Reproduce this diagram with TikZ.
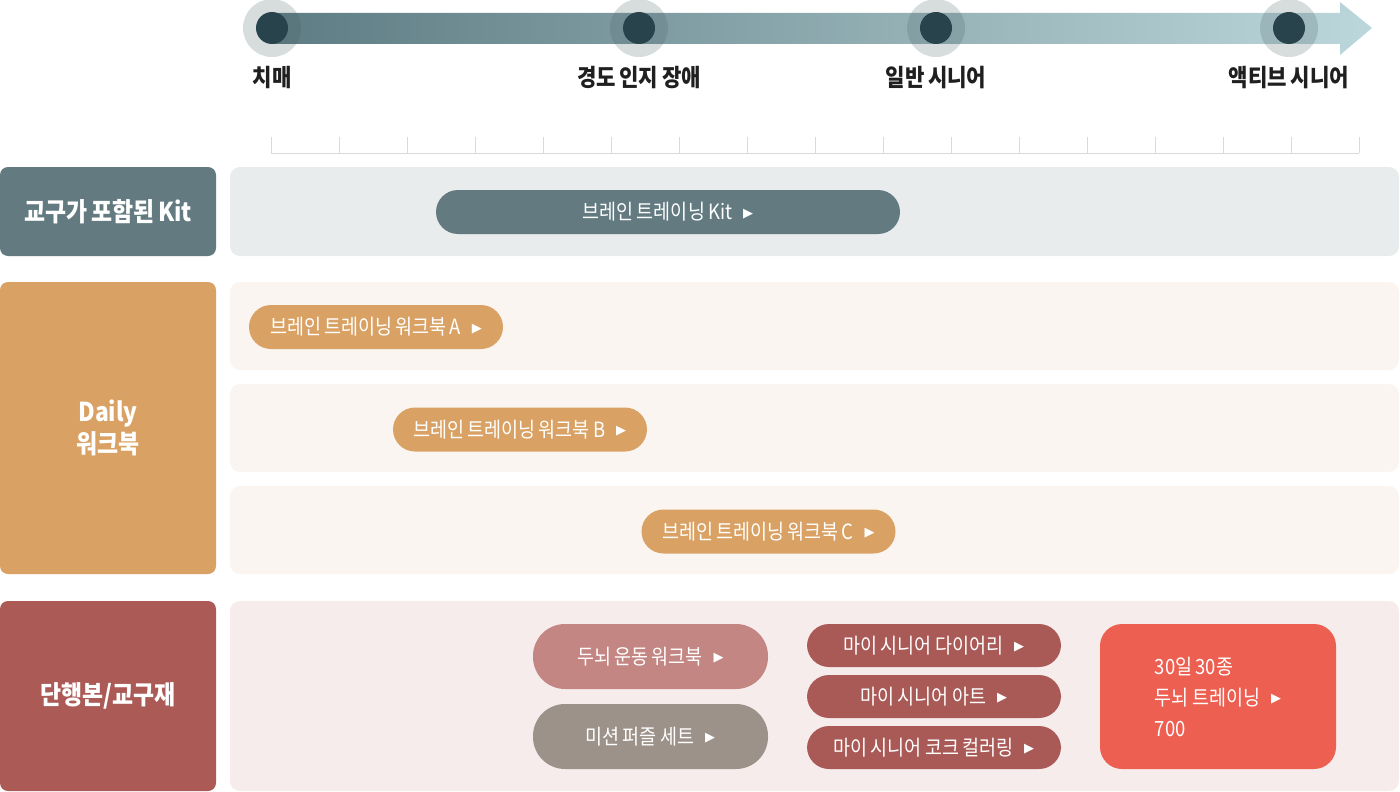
\documentclass[tikz,border=0pt]{standalone}
\usepackage{fontspec}
\setmainfont{Noto Sans CJK KR}[FakeStretch=0.88, WordSpace=0.75]
\newfontfamily\symfont{DejaVu Sans}
\usetikzlibrary{positioning}
\definecolor{kitc}{HTML}{627A80}
\definecolor{kitbg}{HTML}{E8ECED}
\definecolor{dayc}{HTML}{D9A264}
\definecolor{daybg}{HTML}{FAF5F0}
\definecolor{bookc}{HTML}{AB5A55}
\definecolor{bookbg}{HTML}{F7ECEC}
\definecolor{pinkc}{HTML}{C48683}
\definecolor{grayc}{HTML}{9D9289}
\definecolor{redc}{HTML}{A95A56}
\definecolor{coralc}{HTML}{EC5F51}
\definecolor{dotc}{HTML}{28434B}
\definecolor{haloc}{HTML}{4A5F66}
\definecolor{tla}{HTML}{5E7C83}
\definecolor{tlb}{HTML}{BCD7DB}
\definecolor{rulc}{HTML}{D9D9D9}
\definecolor{labc}{HTML}{1F1F1F}
\newcommand{\go}{\hspace{11pt}\raisebox{2.5pt}{\symfont\fontsize{13}{13}\selectfont ▶}}
\tikzset{
	head/.style = {rounded corners=8pt, minimum width=216pt, text=white, align=center,
		font=\bfseries\fontsize{26}{32}\selectfont},
	band/.style = {rounded corners=10pt, minimum width=1169pt},
	pill/.style = {rounded corners=22pt, minimum width=254pt, minimum height=44pt, text=white,
		font=\fontsize{21}{24}\selectfont},
	halo/.style = {circle, fill=haloc, opacity=0.22, minimum size=58pt},
	dot/.style = {circle, fill=dotc, minimum size=32pt},
	lab/.style = {text=labc, font=\bfseries\fontsize{24}{26}\selectfont}
}
\begin{document}
\begin{tikzpicture}[x=1pt, y=-1pt, every node/.style={inner sep=0pt}]
	\useasboundingbox (0,0) rectangle (1400,792);
	\shade[left color=tla, right color=tlb] (270,13) -- (1340,13) -- (1340,2) -- (1372,28) -- (1340,55) -- (1340,44) -- (270,44) -- cycle;
	\foreach \x/\n in {272/1, 639/2, 936/3, 1289/4} {
		\node[halo] at (\x,28) {};
		\node[dot] (d\n) at (\x,28) {};
	}
	\node[lab, below = 22pt of d1] (l1) {치매};
	\node[lab, below = 22pt of d2] (l2) {경도 인지 장애};
	\node[lab, below = 22pt of d3] (l3) {일반 시니어};
	\node[lab, below = 22pt of d4] (l4) {액티브 시니어};
	\draw[rulc, line width=1pt] (271,153) -- (1359,153);
	\foreach \i in {0,...,16}
		\draw[rulc, line width=1pt] (271+68*\i,137) -- ++(0,16);
	\node[head, fill=kitc, minimum height=89pt] (h1) at (108,211.5) {교구가 포함된 Kit};
	\node[head, fill=dayc, minimum height=292pt] (h2) at (108,428) {Daily\\워크북};
	\node[head, fill=bookc, minimum height=190pt] (h3) at (108,696) {단행본/교구재};
	\node[band, fill=kitbg, minimum height=89pt] (b1) at (814.5,211.5) {};
	\node[band, fill=daybg, minimum height=88pt] (b2) at (814.5,326) {};
	\node[band, fill=daybg, minimum height=88pt] (b3) at (814.5,428) {};
	\node[band, fill=daybg, minimum height=88pt] (b4) at (814.5,530) {};
	\node[band, fill=bookbg, minimum height=190pt] (b5) at (814.5,696) {};
	\node[pill, fill=kitc, minimum width=464pt] (p1) at (668,212) {브레인 트레이닝 Kit\go};
	\node[pill, fill=dayc] (p2) at (376,327) {브레인 트레이닝 워크북 A\go};
	\node[pill, fill=dayc] (p3) at (520,429.5) {브레인 트레이닝 워크북 B\go};
	\node[pill, fill=dayc] (p4) at (768.5,531.5) {브레인 트레이닝 워크북 C\go};
	\node[pill, fill=pinkc, minimum width=235pt, minimum height=65pt, rounded corners=32pt] (p5) at (650.5,656.5) {두뇌 운동 워크북\go};
	\node[pill, fill=grayc, minimum width=235pt, minimum height=65pt, rounded corners=32pt] (p6) at (650.5,736.5) {미션 퍼즐 세트\go};
	\node[pill, fill=redc, minimum height=43pt] (p7) at (934,645.5) {마이 시니어 다이어리\go};
	\node[pill, fill=redc, minimum height=43pt] (p8) at (934,696.5) {마이 시니어 아트\go};
	\node[pill, fill=redc, minimum height=43pt] (p9) at (934,747.5) {마이 시니어 코크 컬러링\go};
	\node[pill, fill=coralc, minimum width=236pt, minimum height=145pt, rounded corners=22pt,
		align=left, font=\fontsize{21}{31}\selectfont] (p10) at (1218,696.5) {30일 30종\\두뇌 트레이닝\go\\700};
\end{tikzpicture}
\end{document}
